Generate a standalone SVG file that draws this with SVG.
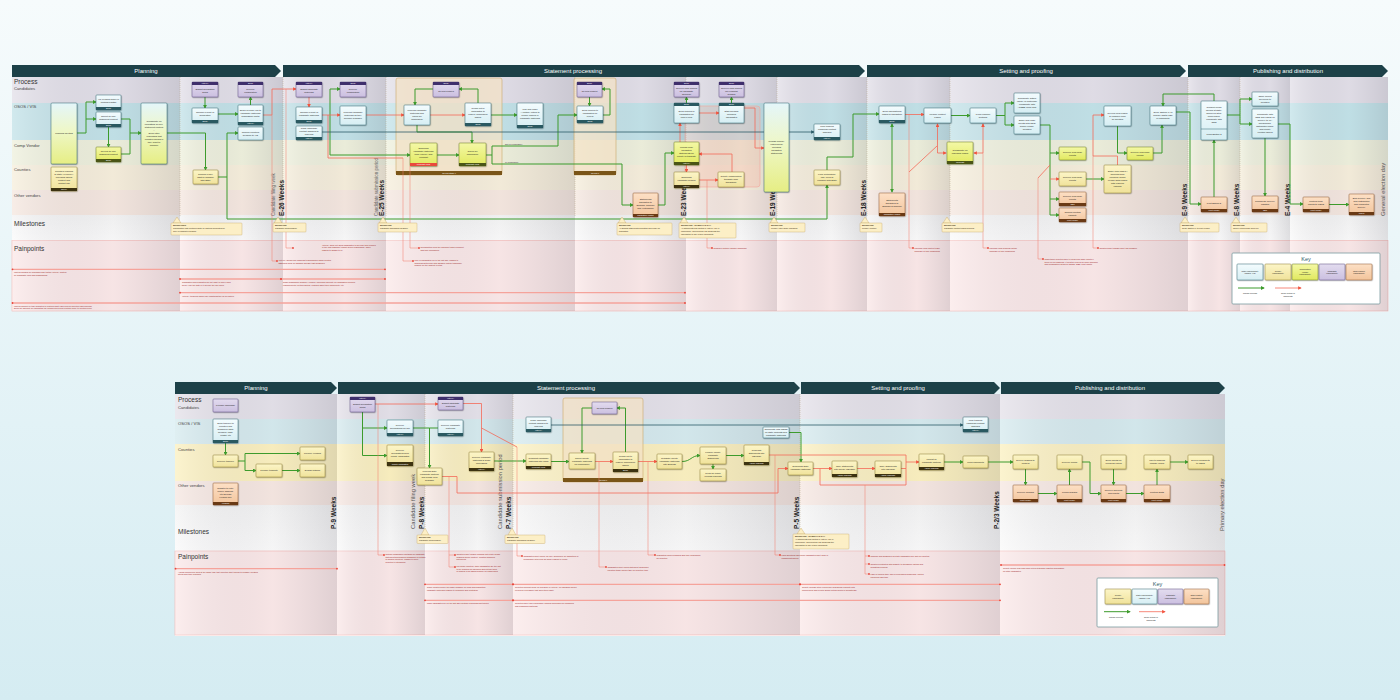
<svg xmlns="http://www.w3.org/2000/svg" width="1400" height="700" viewBox="0 0 1400 700">
<defs>
<linearGradient id="bg" x1="0" y1="0" x2="0" y2="1"><stop offset="0" stop-color="#f6fbfc"/><stop offset="1" stop-color="#d5ecf2"/></linearGradient>
<linearGradient id="col" x1="0" y1="0" x2="1" y2="0"><stop offset="0" stop-color="#fff" stop-opacity="0.25"/><stop offset="0.6" stop-color="#6a6a7a" stop-opacity="0.03"/><stop offset="1" stop-color="#50505f" stop-opacity="0.16"/></linearGradient>
<linearGradient id="gS" x1="0" y1="0" x2="0" y2="1"><stop offset="0" stop-color="#f4fcfe"/><stop offset="1" stop-color="#d6eef3"/></linearGradient>
<linearGradient id="gC" x1="0" y1="0" x2="0" y2="1"><stop offset="0" stop-color="#fcf5c8"/><stop offset="1" stop-color="#f0e29a"/></linearGradient>
<linearGradient id="gV" x1="0" y1="0" x2="0" y2="1"><stop offset="0" stop-color="#f4f8a6"/><stop offset="1" stop-color="#e1e95e"/></linearGradient>
<linearGradient id="gP" x1="0" y1="0" x2="0" y2="1"><stop offset="0" stop-color="#e3dcef"/><stop offset="1" stop-color="#cbbfe0"/></linearGradient>
<linearGradient id="gO" x1="0" y1="0" x2="0" y2="1"><stop offset="0" stop-color="#fde0c6"/><stop offset="1" stop-color="#f2c49b"/></linearGradient>
<linearGradient id="gJ" x1="0" y1="0" x2="0" y2="1"><stop offset="0" stop-color="#e4f6fa"/><stop offset="0.45" stop-color="#eef7c8"/><stop offset="1" stop-color="#e6ee84"/></linearGradient>
<linearGradient id="gM" x1="0" y1="0" x2="0" y2="1"><stop offset="0" stop-color="#f3f3f3"/><stop offset="1" stop-color="#fafafa"/></linearGradient>
<filter id="sh" x="-10%" y="-10%" width="130%" height="140%"><feDropShadow dx="0.5" dy="0.7" stdDeviation="0.35" flood-color="#000" flood-opacity="0.35"/></filter>
<marker id="mg" viewBox="0 0 10 10" refX="8" refY="5" markerWidth="4" markerHeight="4" markerUnits="userSpaceOnUse" orient="auto-start-reverse"><path d="M0,0 L10,5 L0,10 z" fill="#3d9b2c"/></marker>
<marker id="mr" viewBox="0 0 10 10" refX="8" refY="5" markerWidth="3.6" markerHeight="3.6" markerUnits="userSpaceOnUse" orient="auto-start-reverse"><path d="M0,0 L10,5 L0,10 z" fill="#f2543f"/></marker>
<marker id="mt" viewBox="0 0 10 10" refX="8" refY="5" markerWidth="3.6" markerHeight="3.6" markerUnits="userSpaceOnUse" orient="auto"><path d="M0,0 L10,5 L0,10 z" fill="#2b5c68"/></marker>
<marker id="md" viewBox="0 0 10 10" refX="5" refY="5" markerWidth="1.8" markerHeight="1.8" markerUnits="userSpaceOnUse"><circle cx="5" cy="5" r="5" fill="#e8453a"/></marker>
<style>
.n{stroke-width:.5;filter:url(#sh)}
.st{fill:url(#gS);stroke:#2f6670}.co{fill:url(#gC);stroke:#8d7d30}.cv{fill:url(#gV);stroke:#6b7a22}
.ca{fill:url(#gP);stroke:#5c4e82}.ov{fill:url(#gO);stroke:#8f5b30}.jn{fill:url(#gJ);stroke:#2f6670}
.fs{fill:#2a5961}.fc{fill:#3d3311}.fv{fill:#4a5516}.fp{fill:#3f2f6c}.fo{fill:#6a3a15}.fr{fill:#e84a3c}
.nt{font:2.3px "Liberation Sans",Arial,sans-serif;fill:#1e1e1e;text-anchor:middle}
.ft{font:2px "Liberation Sans",Arial,sans-serif;fill:#fff;text-anchor:middle}
.g{fill:none;stroke:#3d9b2c;stroke-width:1;marker-end:url(#mg)}
.g0{fill:none;stroke:#3d9b2c;stroke-width:1}
.g2{fill:none;stroke:#3d9b2c;stroke-width:1;marker-end:url(#mg);marker-start:url(#mg)}
.r{fill:none;stroke:#f46a58;stroke-width:.8;marker-end:url(#mr)}
.r0{fill:none;stroke:#f46a58;stroke-width:.8}
.r2{fill:none;stroke:#f46a58;stroke-width:.8;marker-end:url(#mr);marker-start:url(#mr)}
.tl{fill:none;stroke:#2b5c68;stroke-width:.8;marker-end:url(#mt)}
.ld{fill:none;stroke:#f27a6a;stroke-width:.5;marker-end:url(#md)}
.pb{fill:none;stroke:#f5a39b;stroke-width:1.3}
.dot{fill:#e8453a}
.hd{fill:#1d4148}
.ht{font:6px "Liberation Sans",Arial,sans-serif;fill:#fff;text-anchor:middle}
.lb{font:6.5px "Liberation Sans",Arial,sans-serif;fill:#333}
.ll{font:4.2px "Liberation Sans",Arial,sans-serif;fill:#444}
.wk{font:600 6.5px "Liberation Sans",Arial,sans-serif;fill:#222}
.wk2{font:4.5px "Liberation Sans",Arial,sans-serif;fill:#666}
.wk3{font:5.8px "Liberation Sans",Arial,sans-serif;fill:#555}
.dl{stroke:#b9a98e;stroke-width:.5;stroke-dasharray:1 1}
.ms{fill:#fcefc6;stroke:#c8a766;stroke-width:.4}
.mt{font:bold 2px "Liberation Sans",Arial,sans-serif;fill:#3a2a10}
.md{font:2px "Liberation Sans",Arial,sans-serif;fill:#3a2a10}
.pt{font:2.1px "Liberation Sans",Arial,sans-serif;fill:#9a2020}
.cl{font:2.2px "Liberation Sans",Arial,sans-serif;fill:#333}
.rv{fill:#f3e2c6;fill-opacity:.75;stroke:#c9a86a;stroke-width:.6}
.rvf{fill:#7a5518}
.key{fill:#fff;stroke:#7a9aa0;stroke-width:.8}
.kt{font:5.5px "Liberation Sans",Arial,sans-serif;fill:#2b5c68;text-anchor:middle}
.kl{font:2px "Liberation Sans",Arial,sans-serif;fill:#222;text-anchor:middle}
</style>
</defs>

<rect width="1400" height="700" fill="url(#bg)"/>

<!-- ================= TOP DIAGRAM: background ================= -->
<g id="top-bg">
<rect x="12" y="77" width="1376" height="234" fill="#fff"/>
<rect x="12" y="77" width="1376" height="26" fill="#e2dfe8"/>
<rect x="12" y="103" width="1376" height="37" fill="#c2e2e8"/>
<rect x="12" y="140" width="1376" height="25" fill="#eef0dc"/>
<rect x="12" y="165" width="1376" height="25" fill="#f6eedb"/>
<rect x="12" y="190" width="1376" height="25" fill="#f5e7df"/>
<rect x="12" y="215" width="1376" height="25" fill="url(#gM)"/>
<rect x="12" y="240.5" width="1376" height="70.5" fill="#fbe8e8" stroke="#f3b3b0" stroke-width=".6"/>
<g fill="url(#col)">
<rect x="12" y="77" width="168" height="234"/><rect x="180" y="77" width="103" height="234"/><rect x="283" y="77" width="103" height="234"/>
<rect x="386" y="77" width="189" height="234"/><rect x="575" y="77" width="111" height="234"/><rect x="686" y="77" width="91" height="234"/>
<rect x="777" y="77" width="90" height="234"/><rect x="867" y="77" width="83" height="234"/><rect x="950" y="77" width="238" height="234"/>
<rect x="1188" y="77" width="52" height="234"/><rect x="1240" y="77" width="50" height="234"/><rect x="1290" y="77" width="98" height="234"/>
</g>
<g class="dl">
<line x1="180" y1="77" x2="180" y2="217"/><line x1="283" y1="77" x2="283" y2="217"/><line x1="386" y1="77" x2="386" y2="217"/>
<line x1="575" y1="77" x2="575" y2="217"/><line x1="686" y1="77" x2="686" y2="217"/><line x1="777" y1="77" x2="777" y2="217"/>
<line x1="867" y1="77" x2="867" y2="217"/><line x1="950" y1="77" x2="950" y2="217"/><line x1="1188" y1="77" x2="1188" y2="217"/>
<line x1="1240" y1="77" x2="1240" y2="217"/>
</g>
</g>

<g id="top-header">
<polygon class="hd" points="12,65 275,65 281,71 275,77 12,77"/>
<polygon class="hd" points="283,65 859,65 865,71 859,77 283,77"/>
<polygon class="hd" points="867,65 1180,65 1186,71 1180,77 867,77"/>
<polygon class="hd" points="1188,65 1382,65 1388,71 1382,77 1188,77"/>
<text class="ht" x="146" y="73.2">Planning</text>
<text class="ht" x="573" y="73.2">Statement processing</text>
<text class="ht" x="1026" y="73.2">Setting and proofing</text>
<text class="ht" x="1288" y="73.2">Publishing and distribution</text>
</g>

<g id="top-lanes">
<text class="lb" x="14" y="84">Process</text>
<text class="ll" x="14" y="90">Candidates</text>
<text class="ll" x="14" y="108">OSOS / VIS</text>
<text class="ll" x="14" y="147">Comp Vendor</text>
<text class="ll" x="14" y="171">Counties</text>
<text class="ll" x="14" y="197">Other vendors</text>
<text class="lb" x="14" y="226">Milestones</text>
<text class="lb" x="14" y="251" fill="#b23a3a">Painpoints</text>
</g>

<g id="top-weeks">
<text class="wk2" transform="translate(274.5,216) rotate(-90)">Candidate filing week</text>
<text class="wk" transform="translate(283.5,216) rotate(-90)">E-26 Weeks</text>
<text class="wk2" transform="translate(377.5,216) rotate(-90)">Candidate submission period</text>
<text class="wk" transform="translate(384,216) rotate(-90)">E-25 Weeks</text>
<text class="wk" transform="translate(685.5,216) rotate(-90)">E-23 Weeks</text>
<text class="wk" transform="translate(774.5,216) rotate(-90)">E-19 Weeks</text>
<text class="wk" transform="translate(865.5,216) rotate(-90)">E-18 Weeks</text>
<text class="wk" transform="translate(1186.5,216) rotate(-90)">E-9 Weeks</text>
<text class="wk" transform="translate(1238.5,216) rotate(-90)">E-8 Weeks</text>
<text class="wk" transform="translate(1289.5,216) rotate(-90)">E-4 Weeks</text>
<text class="wk3" fill="#333" transform="translate(1385,216) rotate(-90)">General election day</text>
</g>

<g id="top-containers">
<rect class="rv" x="396" y="78" width="106" height="97" rx="2"/>
<rect class="rvf" x="396" y="171" width="106" height="4"/>
<text class="ft" x="449" y="173.7">Review stage II</text>
<rect class="rv" x="574" y="78" width="42" height="97" rx="2"/>
<rect class="rvf" x="574" y="171" width="42" height="4"/>
<text class="ft" x="595" y="173.7">Review II</text>
<rect x="685" y="106" width="75" height="81" rx="3" fill="#f9a89c" fill-opacity=".28" stroke="#f5a49a" stroke-width=".6"/>
</g>

<!-- ================= TOP CONNECTORS ================= -->
<g id="top-connectors">
<path class="g" d="M77,133 H86 V102 H96"/>
<path class="g" d="M86,119 H96"/>
<path class="g" d="M108.5,127 V147"/>
<path class="g" d="M121,119 H130 V133 H141"/>
<path class="g0" d="M121,154 H130 V133"/>
<path class="g" d="M167,133 H205.5 V170"/>
<path class="g" d="M218,177 H227 V133 H238"/>
<path class="g" d="M227,177 V219 H827 V185"/>
<path class="g" d="M205,97 V108"/>
<path class="g" d="M218,114 H238"/>
<path class="g" d="M250.5,105 V97"/>
<path class="g" d="M330,115 V89 H340"/>
<path class="g" d="M330,115 V155 H410"/>
<path class="g" d="M478,103 V89 H459"/>
<path class="g" d="M433,89 H415 V105"/>
<path class="g" d="M417,125 V132 H472 V143"/>
<path class="g" d="M437,155 H459"/>
<path class="g" d="M486,155 H492 V146 H558 V115 H577"/>
<path class="g" d="M492,155 V164 H622 V205 H633"/>
<text class="cl" x="505" y="145.3">Not in compliance</text>
<text class="cl" x="505" y="163.3">In compliance</text>
<path class="g" d="M491,115 H517"/>
<path class="g" d="M603,115 H610 V89 H602"/>
<path class="g" d="M589.5,97 V106"/>
<path class="g" d="M658,205 H665 V153 H674"/>
<path class="g" d="M686.5,103 V97"/>
<path class="g" d="M731.5,103 V97"/>
<path class="g" d="M827,170 V157 H853 V114 H879"/>
<path class="g2" d="M892,124 V192"/>
<path class="g" d="M951,115.5 H970"/>
<path class="g" d="M996,115.5 H1005 V103 H1014"/>
<path class="g" d="M1005,115.5 V125 H1014"/>
<path class="g" d="M1040,125 H1050 V153 H1059"/>
<path class="g" d="M1050,153 V199 H1059"/>
<path class="g" d="M1050,199 V215 H1059"/>
<path class="g" d="M1086,179 H1104"/>
<path class="g" d="M1117.5,126 V153 H1127"/>
<path class="g" d="M1153,153 H1162 V125"/>
<path class="g" d="M1176,112 H1190 V204 H1201"/>
<path class="g" d="M1214,101 V94 H1163 V106"/>
<path class="g" d="M1214,197 V140"/>
<path class="g" d="M1227,115 H1240 V99 H1252"/>
<path class="g" d="M1240,115 V124 H1252"/>
<path class="g" d="M1265,138 V196"/>
<path class="g" d="M1278,124 H1290 V204 H1303"/>
<path class="g" d="M1329,204.5 H1349"/>

<path class="r" d="M263,115 H272 V89 H296"/>
<path class="r" d="M309,97 V107"/>
<path class="r" d="M322,115 H340"/>
<path class="r" d="M366,115 H404"/>
<path class="r" d="M430,115 H465"/>
<path class="r0" d="M328,115 V158 H403"/>
<path class="r" d="M680,142 V123"/>
<path class="r" d="M686.5,165 V172"/>
<path class="r" d="M699,180 H718"/>
<path class="r" d="M732,172 V154 H699"/>
<path class="r" d="M699,113 H719"/>
<path class="r" d="M744,108 H755 V148 H764"/>
<path class="r" d="M905,114.5 H924"/>
<path class="r0" d="M937,146 L909,172"/>
<path class="r2" d="M937.5,124 V153 H946"/>
<path class="r2" d="M983,124 V153 H974"/>
<path class="r" d="M1050,179 H1059"/>
<path class="r0" d="M1050,165 L1038,178"/>
<path class="r" d="M1117.5,165 V156 H1093 V115 H1104"/>

<path class="tl" d="M322,132 H814"/>

<path class="ld" d="M272,115 V261 H277"/>
<path class="ld" d="M286,89 V248 H293"/>
<path class="ld" d="M403,158 V261 H413"/>
<path class="ld" d="M410,166 V248 H419"/>
<path class="ld" d="M707,180 V248 H712"/>
<path class="ld" d="M909,114.5 V248 H913"/>
<path class="ld" d="M983,153 V248 H988"/>
<path class="ld" d="M1038,178 V259 H1043"/>
<path class="ld" d="M1093,156 V248 H1098"/>
</g>

<!-- ================= TOP NODES ================= -->
<g id="t1"><rect class="n jn" x="51" y="103" width="26" height="61" rx="1"/><text class="nt" x="64" y="134">Planning meeting</text></g>
<g id="t2"><rect class="n st" x="96" y="95" width="25" height="15" rx=".8"/><rect class="fs" x="96" y="107" width="25" height="3"/><text class="nt" x="108.5" y="100.4">VR vendors space in<tspan x="108.5" dy="3">printing plants?</tspan></text><text class="ft" x="108.5" y="109.2">Email</text></g>
<g id="t3"><rect class="n st" x="96" y="112" width="25" height="15" rx=".8"/><rect class="fs" x="96" y="124" width="25" height="3"/><text class="nt" x="108.5" y="117.4">Collect all non-<tspan x="108.5" dy="3">statement content</tspan></text><text class="ft" x="108.5" y="126.2">Email</text></g>
<g id="t4"><rect class="n cv" x="96" y="147" width="25" height="15" rx=".8"/><rect class="fv" x="96" y="159" width="25" height="3"/><text class="nt" x="108.5" y="152.4">Review all non-<tspan x="108.5" dy="3">statement content</tspan></text><text class="ft" x="108.5" y="161.2">Email</text></g>
<g id="t5"><rect class="n jn" x="141" y="103" width="26" height="61" rx="1"/><text class="nt" x="154" y="122.4">Collaborate on<tspan x="154" dy="3">formatting all non-</tspan><tspan x="154" dy="3">statement content</tspan><tspan x="154" dy="3">–</tspan><tspan x="154" dy="3">Send letter</tspan><tspan x="154" dy="3">requesting that</tspan><tspan x="154" dy="3">counties confirm if</tspan><tspan x="154" dy="3">they want to</tspan><tspan x="154" dy="3">combine</tspan></text></g>
<g id="t6"><rect class="n co" x="51" y="167" width="26" height="24" rx=".8"/><rect class="fc" x="51" y="188" width="26" height="3"/><text class="nt" x="64" y="172.4">Counties respond<tspan x="64" dy="3">to state VP survey,</tspan><tspan x="64" dy="3">providing official</tspan><tspan x="64" dy="3">content and</tspan><tspan x="64" dy="3">contact info</tspan></text><text class="ft" x="64" y="190.2">Survey</text></g>
<g id="t7"><rect class="n ca" x="192" y="82" width="26" height="15" rx=".8"/><rect class="fp" x="192" y="82" width="26" height="3"/><text class="ft" x="205" y="84.2">VoteWA</text><text class="nt" x="205" y="90.4">Submit declaration<tspan x="205" dy="3">forms</tspan></text></g>
<g id="t8"><rect class="n st" x="192" y="108" width="26" height="15" rx=".8"/><rect class="fs" x="192" y="120" width="26" height="3"/><text class="nt" x="205" y="113.4">Confirm receipt of<tspan x="205" dy="3">declaration</tspan></text><text class="ft" x="205" y="122.2">Email</text></g>
<g id="t9"><rect class="n ca" x="238" y="82" width="25" height="15" rx=".8"/><rect class="fp" x="238" y="82" width="25" height="3"/><text class="ft" x="250.5" y="84.2">Email</text><text class="nt" x="250.5" y="90.4">Receive<tspan x="250.5" dy="3">confirmation</tspan></text></g>
<g id="t10"><rect class="n st" x="238" y="105" width="25" height="20" rx=".8"/><rect class="fs" x="238" y="122" width="25" height="3"/><text class="nt" x="250.5" y="111.4">Share prepare link to<tspan x="250.5" dy="3">candidate materials</tspan><tspan x="250.5" dy="3">submission portal</tspan></text><text class="ft" x="250.5" y="124.2">VoteWA</text></g>
<g id="t11"><rect class="n st" x="238" y="127" width="25" height="13" rx=".8"/><text class="nt" x="250.5" y="132.9">Confirm counties'<tspan x="250.5" dy="3">decision to VIS</tspan></text></g>
<g id="t12"><rect class="n co" x="193" y="170" width="25" height="14" rx=".8"/><text class="nt" x="205.5" y="174.9">Confirm if they<tspan x="205.5" dy="3">want to combine</tspan><tspan x="205.5" dy="3">with State</tspan></text></g>
<g id="t13"><rect class="n ca" x="296" y="82" width="26" height="15" rx=".8"/><rect class="fp" x="296" y="82" width="26" height="3"/><text class="ft" x="309" y="84.2">VoteWA</text><text class="nt" x="309" y="90.4">Submit candidate<tspan x="309" dy="3">materials</tspan></text></g>
<g id="t14"><rect class="n ca" x="340" y="82" width="26" height="15" rx=".8"/><rect class="fp" x="340" y="82" width="26" height="3"/><text class="ft" x="353" y="84.2">Email</text><text class="nt" x="353" y="90.4">Receive<tspan x="353" dy="3">confirmation</tspan></text></g>
<g id="t15"><rect class="n st" x="296" y="107" width="26" height="16" rx=".8"/><rect class="fs" x="296" y="120" width="26" height="3"/><text class="nt" x="309" y="112.9">Confirm receipt of<tspan x="309" dy="3">candidate materials</tspan></text><text class="ft" x="309" y="122.2">Email</text></g>
<g id="t16"><rect class="n st" x="296" y="126" width="26" height="14" rx=".8"/><rect class="fs" x="296" y="137" width="26" height="3"/><text class="nt" x="309" y="129.4">Track campaign<tspan x="309" dy="3">contact changes to</tspan><tspan x="309" dy="3">ordering</tspan></text><text class="ft" x="309" y="139.2">VoteWA</text></g>
<g id="t17"><rect class="n st" x="340" y="106" width="26" height="19" rx=".8"/><text class="nt" x="353" y="113.4">Process candidate<tspan x="353" dy="3">materials as they</tspan><tspan x="353" dy="3">become available</tspan></text></g>
<g id="t18"><rect class="n ca" x="433" y="82" width="26" height="15" rx=".8"/><rect class="fp" x="433" y="82" width="26" height="3"/><text class="ft" x="446" y="84.2">Email</text><text class="nt" x="446" y="91.9">Review profiles</text></g>
<g id="t19"><rect class="n st" x="404" y="105" width="26" height="20" rx=".8"/><text class="nt" x="417" y="111.4">Process candidate<tspan x="417" dy="3">materials and</tspan><tspan x="417" dy="3">check for</tspan><tspan x="417" dy="3">compliance</tspan></text></g>
<g id="t20"><rect class="n st" x="465" y="103" width="26" height="23" rx=".8"/><rect class="fs" x="465" y="123" width="26" height="3"/><text class="nt" x="478" y="109.4">Reach out to<tspan x="478" dy="3">candidates to</tspan><tspan x="478" dy="3">resolve compliance</tspan><tspan x="478" dy="3">issues</tspan></text><text class="ft" x="478" y="125.2">Email</text></g>
<g id="t21"><rect class="n cv" x="410" y="143" width="27" height="23" rx=".8"/><rect class="fr" x="410" y="163" width="27" height="3"/><text class="nt" x="423.5" y="149.4">Download<tspan x="423.5" dy="3">candidate materials</tspan><tspan x="423.5" dy="3">from VoteWA and</tspan><tspan x="423.5" dy="3">reformat</tspan></text><text class="ft" x="423.5" y="165.2">Microsoft Word</text></g>
<g id="t22"><rect class="n cv" x="459" y="143" width="27" height="23" rx=".8"/><rect class="fv" x="459" y="163" width="27" height="3"/><text class="nt" x="472.5" y="152.4">Check for<tspan x="472.5" dy="3">compliance</tspan></text><text class="ft" x="472.5" y="165.2">Microsoft Word</text></g>
<g id="t23"><rect class="n st" x="517" y="103" width="26" height="25" rx=".8"/><rect class="fs" x="517" y="125" width="26" height="3"/><text class="nt" x="530" y="110.4">Mail and email<tspan x="530" dy="3">“Aviation” letters to</tspan><tspan x="530" dy="3">people named in</tspan><tspan x="530" dy="3">candidate materials</tspan></text><text class="ft" x="530" y="127.2">Email</text></g>
<g id="t24"><rect class="n ca" x="577" y="82" width="25" height="15" rx=".8"/><rect class="fp" x="577" y="82" width="25" height="3"/><text class="ft" x="589.5" y="84.2">Email</text><text class="nt" x="589.5" y="91.9">Review profiles</text></g>
<g id="t25"><rect class="n st" x="577" y="106" width="26" height="17" rx=".8"/><rect class="fs" x="577" y="120" width="26" height="3"/><text class="nt" x="590" y="110.9">Send profiles to<tspan x="590" dy="3">candidates for</tspan><tspan x="590" dy="3">review</tspan></text><text class="ft" x="590" y="122.2">Email</text></g>
<g id="t26"><rect class="n ov" x="633" y="193" width="25" height="24" rx=".8"/><rect class="fo" x="633" y="214" width="25" height="3"/><text class="nt" x="645.5" y="199.9">Statements<tspan x="645.5" dy="3">translated to</tspan><tspan x="645.5" dy="3">Spanish, Chinese</tspan><tspan x="645.5" dy="3">and Vietnamese</tspan></text><text class="ft" x="645.5" y="216.2">Translation vendor</text></g>
<g id="t27"><rect class="n ca" x="674" y="82" width="25" height="15" rx=".8"/><rect class="fp" x="674" y="82" width="25" height="3"/><text class="ft" x="686.5" y="84.2">Email</text><text class="nt" x="686.5" y="88.9">Receive final profiles<tspan x="686.5" dy="3">for candidate</tspan><tspan x="686.5" dy="3">approval</tspan></text></g>
<g id="t28"><rect class="n ca" x="719" y="82" width="25" height="15" rx=".8"/><rect class="fp" x="719" y="82" width="25" height="3"/><text class="ft" x="731.5" y="84.2">Email</text><text class="nt" x="731.5" y="88.9">Receive final profiles<tspan x="731.5" dy="3">for revisions</tspan><tspan x="731.5" dy="3">allowed</tspan></text></g>
<g id="t29"><rect class="n st" x="674" y="103" width="25" height="20" rx=".8"/><rect class="fs" x="674" y="103" width="25" height="3"/><text class="ft" x="686.5" y="105.2">Email</text><text class="nt" x="686.5" y="112.4">Send profiles to<tspan x="686.5" dy="3">candidates for</tspan><tspan x="686.5" dy="3">final review</tspan></text></g>
<g id="t30"><rect class="n st" x="719" y="103" width="25" height="20" rx=".8"/><rect class="fs" x="719" y="103" width="25" height="3"/><text class="ft" x="731.5" y="105.2">Email</text><text class="nt" x="731.5" y="112.4">Start proofing<tspan x="731.5" dy="3">prepared</tspan><tspan x="731.5" dy="3">candidates</tspan></text></g>
<g id="t31"><rect class="n cv" x="674" y="142" width="25" height="23" rx=".8"/><rect class="fv" x="674" y="162" width="25" height="3"/><text class="nt" x="686.5" y="148.4">Upload final/<tspan x="686.5" dy="3">translated</tspan><tspan x="686.5" dy="3">statements for</tspan><tspan x="686.5" dy="3">county to translate</tspan></text><text class="ft" x="686.5" y="164.2">VoteWA</text></g>
<g id="t32"><rect class="n co" x="674" y="172" width="25" height="16" rx=".8"/><rect class="fc" x="674" y="185" width="25" height="3"/><text class="nt" x="686.5" y="177.9">Download<tspan x="686.5" dy="3">candidate profiles</tspan></text><text class="ft" x="686.5" y="187.2">VoteWA</text></g>
<g id="t33"><rect class="n co" x="718" y="172" width="26" height="15" rx=".8"/><text class="nt" x="731" y="177.4">County communities<tspan x="731" dy="3">translate from</tspan><tspan x="731" dy="3">translation</tspan></text></g>
<g id="t34"><rect class="n jn" x="764" y="103" width="25" height="89" rx="1"/><text class="nt" x="776.5" y="142.4">Publish primary<tspan x="776.5" dy="3">voting guide</tspan><tspan x="776.5" dy="3">including</tspan><tspan x="776.5" dy="3">translated</tspan><tspan x="776.5" dy="3">statements</tspan></text></g>
<g id="t35"><rect class="n st" x="814" y="124" width="26" height="16" rx=".8"/><rect class="fs" x="814" y="137" width="26" height="3"/><text class="nt" x="827" y="127.4">Final tracking<tspan x="827" dy="3">campaign contact</tspan><tspan x="827" dy="3">changes</tspan></text><text class="ft" x="827" y="139.2">VoteWA</text></g>
<g id="t36"><rect class="n co" x="814" y="170" width="26" height="15" rx=".8"/><text class="nt" x="827" y="175.4">Final certification.<tspan x="827" dy="3">May need to</tspan><tspan x="827" dy="3">combine with State</tspan></text></g>
<g id="t37"><rect class="n st" x="879" y="106" width="26" height="17" rx=".8"/><rect class="fs" x="879" y="120" width="26" height="3"/><text class="nt" x="892" y="112.4">Send informational<tspan x="892" dy="3">pages to translation</tspan></text><text class="ft" x="892" y="122.2">Email</text></g>
<g id="t38"><rect class="n ov" x="879" y="193" width="26" height="23" rx=".8"/><rect class="fo" x="879" y="213" width="26" height="3"/><text class="nt" x="892" y="200.9">Statements<tspan x="892" dy="3">translated to</tspan><tspan x="892" dy="3">Spanish &amp; Chinese</tspan></text><text class="ft" x="892" y="215.2">Translation vendor</text></g>
<g id="t39"><rect class="n st" x="924" y="108" width="27" height="15" rx=".8"/><text class="nt" x="937.5" y="114.9">Finalize content<tspan x="937.5" dy="3">pages</tspan></text></g>
<g id="t40"><rect class="n cv" x="947" y="142" width="26" height="22" rx=".8"/><rect class="fv" x="947" y="161" width="26" height="3"/><text class="nt" x="960" y="150.9">Collaborate on<tspan x="960" dy="3">individual pages</tspan></text><text class="ft" x="960" y="163.2">Ionoplast</text></g>
<g id="t41"><rect class="n st" x="970" y="108" width="26" height="15" rx=".8"/><text class="nt" x="983" y="114.9">Proof regional<tspan x="983" dy="3">sections</tspan></text></g>
<g id="t42"><rect class="n st" x="1014" y="93" width="26" height="20" rx=".8"/><text class="nt" x="1027" y="99.4">Coordinate author<tspan x="1027" dy="3">visual VP materials;</tspan><tspan x="1027" dy="3">collaborate with</tspan><tspan x="1027" dy="3">AT&amp;BB; proof final</tspan></text></g>
<g id="t43"><rect class="n st" x="1014" y="116" width="26" height="18" rx=".8"/><text class="nt" x="1027" y="121.4">Share final page<tspan x="1027" dy="3">counts with OSS;</tspan><tspan x="1027" dy="3">Comp vendor,</tspan><tspan x="1027" dy="3">counties</tspan></text></g>
<g id="t44"><rect class="n cv" x="1059" y="147" width="27" height="13" rx=".8"/><text class="nt" x="1072.5" y="152.9">Receive final page<tspan x="1072.5" dy="3">counts</tspan></text></g>
<g id="t45"><rect class="n co" x="1059" y="172" width="27" height="14" rx=".8"/><text class="nt" x="1072.5" y="178.4">Receive final page<tspan x="1072.5" dy="3">counts</tspan></text></g>
<g id="t46"><rect class="n ov" x="1059" y="192" width="27" height="14" rx=".8"/><rect class="fo" x="1059" y="203" width="27" height="3"/><text class="nt" x="1072.5" y="196.9">Receive final page<tspan x="1072.5" dy="3">counts</tspan></text><text class="ft" x="1072.5" y="205.2">SBS</text></g>
<g id="t47"><rect class="n ov" x="1059" y="208" width="27" height="14" rx=".8"/><rect class="fo" x="1059" y="219" width="27" height="3"/><text class="nt" x="1072.5" y="212.9">Confirm printing<tspan x="1072.5" dy="3">capacity</tspan></text><text class="ft" x="1072.5" y="221.2">Print vendor</text></g>
<g id="t48"><rect class="n st" x="1104" y="106" width="27" height="20" rx=".8"/><text class="nt" x="1117.5" y="113.9">Review local pages<tspan x="1117.5" dy="3">&amp; compare from</tspan><tspan x="1117.5" dy="3">all counties</tspan></text></g>
<g id="t49"><rect class="n co" x="1104" y="165" width="27" height="28" rx=".8"/><text class="nt" x="1117.5" y="172.4">Share local pages /<tspan x="1117.5" dy="3">amounts from</tspan><tspan x="1117.5" dy="3">counties; Comp</tspan><tspan x="1117.5" dy="3">vendor sorts pages</tspan><tspan x="1117.5" dy="3">with regional</tspan><tspan x="1117.5" dy="3">editions</tspan></text></g>
<g id="t50"><rect class="n cv" x="1127" y="147" width="26" height="13" rx=".8"/><text class="nt" x="1140" y="152.9">Receive final page<tspan x="1140" dy="3">counts</tspan></text></g>
<g id="t51"><rect class="n st" x="1150" y="106" width="26" height="19" rx=".8"/><text class="nt" x="1163" y="113.4">Send “Edition 1” to<tspan x="1163" dy="3">primary digital PDF</tspan><tspan x="1163" dy="3">of pamphlet?</tspan></text></g>
<g id="t52"><rect class="n st" x="1201" y="101" width="26" height="39" rx=".8"/><line x1="1201" y1="129" x2="1227" y2="129" stroke="#2f6670" stroke-width=".5"/><text class="nt" x="1214" y="108.4">Conduct press<tspan x="1214" dy="3">checks at state-</tspan><tspan x="1214" dy="3">approved sites,</tspan><tspan x="1214" dy="3">proof plates,</tspan><tspan x="1214" dy="3">coordinate with</tspan><tspan x="1214" dy="3">OSS</tspan></text><text class="nt" x="1214" y="135.4">Proof Edition 2</text></g>
<g id="t53"><rect class="n ov" x="1201" y="197" width="26" height="15" rx=".8"/><rect class="fo" x="1201" y="209" width="26" height="3"/><text class="nt" x="1214" y="203.9">Print Edition 2</text><text class="ft" x="1214" y="211.2">Print vendor</text></g>
<g id="t54"><rect class="n st" x="1252" y="92" width="26" height="14" rx=".8"/><text class="nt" x="1265" y="96.9">Office copies<tspan x="1265" dy="3">delivered to</tspan><tspan x="1265" dy="3">counties</tspan></text></g>
<g id="t55"><rect class="n st" x="1252" y="109" width="26" height="29" rx=".8"/><text class="nt" x="1265" y="115.4">Coordinate with<tspan x="1265" dy="3">OSS and USPS on</tspan><tspan x="1265" dy="3">delivery to WA</tspan><tspan x="1265" dy="3">households,</tspan><tspan x="1265" dy="3">distribution hubs,</tspan><tspan x="1265" dy="3">and county</tspan><tspan x="1265" dy="3">election offices</tspan></text></g>
<g id="t56"><rect class="n ov" x="1252" y="196" width="26" height="16" rx=".8"/><rect class="fo" x="1252" y="209" width="26" height="3"/><text class="nt" x="1265" y="201.9">Coordinate delivery<tspan x="1265" dy="3">logistics</tspan></text><text class="ft" x="1265" y="211.2">SBS</text></g>
<g id="t57"><rect class="n ov" x="1303" y="197" width="26" height="15" rx=".8"/><rect class="fo" x="1303" y="209" width="26" height="3"/><text class="nt" x="1316" y="202.4">Printers truck<tspan x="1316" dy="3">pallets to USPS</tspan></text><text class="ft" x="1316" y="211.2">Print vendor</text></g>
<g id="t58"><rect class="n ov" x="1349" y="194" width="25" height="21" rx=".8"/><rect class="fo" x="1349" y="212" width="25" height="3"/><text class="nt" x="1361.5" y="199.4">Bulk delivery and<tspan x="1361.5" dy="3">bulk distribution</tspan><tspan x="1361.5" dy="3">and residential</tspan><tspan x="1361.5" dy="3">delivery</tspan></text><text class="ft" x="1361.5" y="214.2">USPS</text></g>

<!-- top milestones -->
<g id="tm1"><polygon class="ms" points="177,217 181,223 173,223"/><rect class="ms" x="171" y="223" width="71" height="12" rx=".8"/><text class="mt" x="173" y="226.3">MILESTONES</text><text class="md" x="173" y="229.3">Confirmation with printing plants; all editions accounted for<tspan x="173" dy="2.8">Crux of legislative session</tspan></text></g>
<g id="tm2"><polygon class="ms" points="278,217 282,223 274,223"/><rect class="ms" x="273" y="223" width="33" height="9" rx=".8"/><text class="mt" x="275" y="226.3">MILESTONE</text><text class="md" x="275" y="229.3">Candidate filing deadline</text></g>
<g id="tm3"><polygon class="ms" points="383,217 387,223 379,223"/><rect class="ms" x="378" y="223" width="39" height="9" rx=".8"/><text class="mt" x="380" y="226.3">MILESTONE</text><text class="md" x="380" y="229.3">Candidate submission deadline</text></g>
<g id="tm4"><polygon class="ms" points="622,217 626,223 618,223"/><rect class="ms" x="617" y="223" width="55" height="12" rx=".8"/><text class="mt" x="619" y="226.3">MILESTONE</text><text class="md" x="619" y="229.3">All English statements formatted and ready for<tspan x="619" dy="2.8">translation</tspan></text></g>
<g id="tm5"><polygon class="ms" points="684,217 688,223 680,223"/><rect class="ms" x="679" y="223" width="57" height="15" rx=".8"/><text class="mt" x="681" y="226.3">MILESTONE - DOWNLOAD DAY</text><text class="md" x="681" y="229.3">All statements and photos in VoteWA are in<tspan x="681" dy="2.8">compliance, and counties can download the</tspan><tspan x="681" dy="2.8">information to use in their pamphlets</tspan></text></g>
<g id="tm6"><polygon class="ms" points="774,217 778,223 770,223"/><rect class="ms" x="769" y="223" width="36" height="9" rx=".8"/><text class="mt" x="771" y="226.3">MILESTONE</text><text class="md" x="771" y="229.3">Primary voter guide published</text></g>
<g id="tm7"><polygon class="ms" points="865,217 869,223 861,223"/><rect class="ms" x="860" y="223" width="22" height="9" rx=".8"/><text class="mt" x="862" y="226.3">MILESTONE</text><text class="md" x="862" y="229.3">Primary election</text></g>
<g id="tm8"><polygon class="ms" points="947,217 951,223 943,223"/><rect class="ms" x="942" y="223" width="41" height="9" rx=".8"/><text class="mt" x="944" y="226.3">MILESTONE</text><text class="md" x="944" y="229.3">Candidate content pages finalized</text></g>
<g id="tm9"><polygon class="ms" points="1185,217 1189,223 1181,223"/><rect class="ms" x="1180" y="223" width="39" height="9" rx=".8"/><text class="mt" x="1182" y="226.3">MILESTONE</text><text class="md" x="1182" y="229.3">Send “Edition 1” to print vendor</text></g>
<g id="tm10"><polygon class="ms" points="1236,217 1240,223 1232,223"/><rect class="ms" x="1231" y="223" width="36" height="9" rx=".8"/><text class="mt" x="1233" y="226.3">MILESTONE</text><text class="md" x="1233" y="229.3">Online voters guide goes live</text></g>

<!-- top painpoints -->
<g id="top-painpoints">
<path class="pb" d="M12,269.3 H385"/><circle class="dot" cx="12.5" cy="269.3" r=".9"/><circle class="dot" cx="385" cy="269.3" r=".9"/>
<path class="pb" d="M180,279 H385"/><circle class="dot" cx="180" cy="279" r=".9"/><circle class="dot" cx="281" cy="279" r="1.1"/><circle class="dot" cx="385" cy="279" r=".9"/>
<path class="pb" d="M180,292.7 H685"/><circle class="dot" cx="180" cy="292.7" r=".9"/><circle class="dot" cx="685" cy="292.7" r=".9"/>
<path class="pb" d="M12,303 H685"/><circle class="dot" cx="12.5" cy="303" r=".9"/><circle class="dot" cx="685" cy="303" r=".9"/>
<text class="pt" x="14" y="273">Limited window for launching and testing VoteWA system<tspan x="14" dy="2.8">for Candidate filing and submissions</tspan></text>
<text class="pt" x="182" y="283">Candidates and legislators do not want to move filing<tspan x="182" dy="2.8">week / use the date of it as only the one week</tspan></text>
<text class="pt" x="283" y="283">Small submission window (“7 days”) increases difficulty for candidates seeking<tspan x="283" dy="2.8">endorsements, getting photos, learning about their opponents, etc.</tspan></text>
<text class="pt" x="182" y="296.6">VoteWA technical issues are unsatisfactory for all parties</text>
<text class="pt" x="14" y="306.6">Limited amount of time allocated to Printing plant early proves selection and proofing<tspan x="14" dy="2.8">Does not account for navigating the complexities from election cycle to election cycle</tspan></text>
<text class="pt" x="278.5" y="260.7">VoteWA allows non-compliant submissions which creates<tspan x="278.5" dy="2.8">additional work for OSOS's already tight deadlines</tspan></text>
<text class="pt" x="322" y="245.5">VoteWA does not allow candidates to preview their profiles<tspan x="322" dy="2.8">in the final pamphlet format before submission, when</tspan><tspan x="322" dy="2.8">passed to OSOS to fix</tspan></text>
<text class="pt" x="414.5" y="260.7">96% of candidates file in the last day, leading to<tspan x="414.5" dy="2.8">workload bottleneck with OSOS's limited temporary</tspan><tspan x="414.5" dy="2.8">support for the amount of staff</tspan></text>
<text class="pt" x="420.5" y="247.7">Reformatting from the Microsoft word is difficult<tspan x="420.5" dy="2.8">and time consuming</tspan></text>
<text class="pt" x="713.5" y="248.7">Requires multiple parallel workflows</text>
<text class="pt" x="914.5" y="248.7">Proofing each content page<tspan x="914.5" dy="2.8">manually is time consuming</tspan></text>
<text class="pt" x="989.5" y="248.7">Proofing each regional edition<tspan x="989.5" dy="2.8">manually is time consuming</tspan></text>
<text class="pt" x="1099.5" y="248.7">Counties don't always meet this deadline</text>
<text class="pt" x="1044.5" y="259.7">Sometimes counties have to send new page counts if<tspan x="1044.5" dy="2.8">there's a full mapping. It creates a need for more planning</tspan><tspan x="1044.5" dy="2.8">and coordination between OSOS, OBS, Print plants</tspan></text>
</g>

<!-- top key -->
<g id="top-key">
<rect class="key" x="1232" y="253" width="148" height="51" rx="1"/>
<text class="kt" x="1306" y="260.5">Key</text>
<rect class="n st" x="1237" y="264" width="26" height="16" rx=".8"/><text class="kl" x="1250" y="271.5">State responsibility<tspan x="1250" dy="2.6">(OSOS, VIS)</tspan></text>
<rect class="n co" x="1265" y="264" width="26" height="16" rx=".8"/><text class="kl" x="1278" y="271.5">County<tspan x="1278" dy="2.6">responsibility</tspan></text>
<rect class="n cv" x="1292" y="264" width="26" height="16" rx=".8"/><text class="kl" x="1305" y="270.2">Composition<tspan x="1305" dy="2.6">vendor</tspan><tspan x="1305" dy="2.6">responsibility</tspan></text>
<rect class="n ca" x="1319" y="264" width="26" height="16" rx=".8"/><text class="kl" x="1332" y="271.5">Candidate<tspan x="1332" dy="2.6">responsibility</tspan></text>
<rect class="n ov" x="1346" y="264" width="26" height="16" rx=".8"/><text class="kl" x="1359" y="271.5">Other partner<tspan x="1359" dy="2.6">responsibility</tspan></text>
<path class="g" d="M1238,288 H1264" stroke-width="1.4"/>
<path class="r" d="M1275,288 H1301" stroke-width="1.4"/>
<text class="kl" x="1250" y="294">Normal process</text>
<text class="kl" x="1288" y="294">Some friction or<tspan x="1288" dy="2.6">painpoints</tspan></text>
</g>

<!-- ================= BOTTOM DIAGRAM: background ================= -->
<g id="bot-bg">
<rect x="175" y="394" width="1050" height="242" fill="#fff"/>
<rect x="175" y="394" width="1050" height="25" fill="#e4e1e9"/>
<rect x="175" y="419" width="1050" height="25" fill="#d5eaee"/>
<rect x="175" y="444" width="1050" height="37" fill="#fbf0bf"/>
<rect x="175" y="481" width="1050" height="24" fill="#f6e7e1"/>
<rect x="175" y="505" width="1050" height="46" fill="url(#gM)"/>
<rect x="175" y="551" width="1050" height="84" fill="#fbe8e8" stroke="#f3b3b0" stroke-width=".6"/>
<g fill="url(#col)">
<rect x="175" y="394" width="162" height="241"/><rect x="337" y="394" width="88" height="241"/><rect x="425" y="394" width="88" height="241"/>
<rect x="513" y="394" width="287" height="241"/><rect x="800" y="394" width="200" height="241"/><rect x="1000" y="394" width="225" height="241"/>
</g>
<g class="dl">
<line x1="425" y1="394" x2="425" y2="528"/><line x1="513" y1="394" x2="513" y2="528"/><line x1="800" y1="394" x2="800" y2="528"/>
</g>
</g>

<g id="bot-header">
<polygon class="hd" points="175,382 331,382 337,388 331,394 175,394"/>
<polygon class="hd" points="338,382 794,382 800,388 794,394 338,394"/>
<polygon class="hd" points="801,382 994,382 1000,388 994,394 801,394"/>
<polygon class="hd" points="1001,382 1219,382 1225,388 1219,394 1001,394"/>
<text class="ht" x="256" y="390.2">Planning</text>
<text class="ht" x="566" y="390.2">Statement processing</text>
<text class="ht" x="898" y="390.2">Setting and proofing</text>
<text class="ht" x="1110" y="390.2">Publishing and distribution</text>
</g>

<g id="bot-lanes">
<text class="lb" x="178" y="402" fill="#4b3f7a">Process</text>
<text class="ll" x="178" y="408.5">Candidates</text>
<text class="ll" x="178" y="424.5">OSOS / VIS</text>
<text class="ll" x="178" y="451">Counties</text>
<text class="ll" x="178" y="487">Other vendors</text>
<text class="lb" x="178" y="533.5" fill="#8a5a30">Milestones</text>
<text class="lb" x="178" y="558.5" fill="#b23a3a">Painpoints</text>
</g>

<g id="bot-weeks">
<text class="wk" transform="translate(335.5,529) rotate(-90)">P-9 Weeks</text>
<text class="wk3" transform="translate(415,529) rotate(-90)">Candidate filing week</text>
<text class="wk" transform="translate(423.5,529) rotate(-90)">P-8 Weeks</text>
<text class="wk3" transform="translate(502,529) rotate(-90)">Candidate submission period</text>
<text class="wk" transform="translate(510.5,529) rotate(-90)">P-7 Weeks</text>
<text class="wk" transform="translate(798.5,529) rotate(-90)">P-5 Weeks</text>
<text class="wk" transform="translate(998.5,529) rotate(-90)">P-2/3 Weeks</text>
<text class="wk3" fill="#333" transform="translate(1224,531) rotate(-90)">Primary election day</text>
</g>

<g id="bot-containers">
<rect class="rv" x="563" y="398" width="80" height="84" rx="2"/>
<rect class="rvf" x="563" y="478" width="80" height="4"/>
<text class="ft" x="603" y="480.7">Review II</text>
</g>

<!-- ================= BOTTOM CONNECTORS ================= -->
<g id="bot-connectors">
<path class="g" d="M225.5,443 V455"/>
<path class="g" d="M238,461 H245 V453.5 H300"/>
<path class="g" d="M245,461 V470.5 H256"/>
<path class="g" d="M282,470.5 H300"/>
<path class="g" d="M362.5,412 V428 H387"/>
<path class="g" d="M362.5,428 V455.5 H387"/>
<path class="g" d="M413,428 H429.5 V468"/>
<path class="g0" d="M438,428 H429.5"/>
<path class="g" d="M494,461 H526"/>
<path class="g" d="M551,461.5 H569"/>
<path class="g" d="M625.5,452 V408 H617"/>
<path class="g" d="M592,408 H582 V453"/>
<path class="g" d="M682,461.5 C691,461.5 691,455.5 700,455.5"/>
<path class="g" d="M713,464 V469"/>
<path class="g" d="M726,455.5 H744"/>
<path class="g" d="M789,432.5 H801 V462"/>
<path class="g" d="M944,462 H963"/>
<path class="g" d="M988,462 H1013"/>
<path class="g" d="M1025.5,469 V485"/>
<path class="g" d="M1038,493.5 H1057"/>
<path class="g" d="M1069.5,485 V469"/>
<path class="g" d="M1082,462 H1090 V493.5 H1101"/>
<path class="g" d="M1113.5,469 V485"/>
<path class="g" d="M1126,493.5 H1144"/>
<path class="g" d="M1157,485 V469"/>
<path class="g" d="M1170,462 H1188"/>

<path class="r" d="M375,404 H438"/>
<path class="r" d="M463,403.5 H481.5 V452"/>
<path class="r0" d="M481.5,428 L517,447"/>
<path class="r" d="M442,476.5 H457 V493 H778 V468.5 H788"/>
<path class="r" d="M595,461.5 H613"/>
<path class="r" d="M638,461.5 H657"/>
<path class="r" d="M769,455 H906 V462 H919"/>
<path class="r" d="M813,468.5 H832"/>
<path class="r" d="M857,468.5 H875"/>
<path class="r0" d="M901,468.5 H906 V462"/>
<path class="r0" d="M820,468.5 V485 H906 V468.5"/>

<path class="tl" d="M551,425 H963"/>

<path class="ld" d="M378,404 V555 H384"/>
<path class="ld" d="M449,476.5 V567 H455"/>
<path class="ld" d="M449,555 H455"/>
<path class="ld" d="M517,447 V556 H522"/>
<path class="ld" d="M599,461.5 V567 H606"/>
<path class="ld" d="M648,461.5 V555 H655"/>
<path class="ld" d="M775,455 V555 H780"/>
<path class="ld" d="M865,485 V574 H869"/>
<path class="ld" d="M865,556 H869"/>
<path class="ld" d="M865,564 H869"/>
</g>

<!-- ================= BOTTOM NODES ================= -->
<g id="b1"><rect class="n ca" x="213" y="399" width="25" height="13" rx=".8"/><text class="nt" x="225.5" y="406.4">Prepare campaign</text></g>
<g id="b2"><rect class="n st" x="213" y="419" width="25" height="24" rx=".8"/><rect class="fs" x="213" y="440" width="25" height="3"/><text class="nt" x="225.5" y="424.4">Send timeline to<tspan x="225.5" dy="3">counties and</tspan><tspan x="225.5" dy="3">deadlines; state</tspan><tspan x="225.5" dy="3">holidays, page</tspan><tspan x="225.5" dy="3">length, etc</tspan></text><text class="ft" x="225.5" y="442.2">Email</text></g>
<g id="b3"><rect class="n co" x="213" y="455" width="25" height="12" rx=".8"/><text class="nt" x="225.5" y="461.9">Receive timeline</text></g>
<g id="b4"><rect class="n co" x="300" y="447" width="25" height="13" rx=".8"/><text class="nt" x="312.5" y="454.4">Procure vendors</text></g>
<g id="b5"><rect class="n co" x="256" y="464" width="26" height="13" rx=".8"/><text class="nt" x="269" y="471.4">Prepare template</text></g>
<g id="b6"><rect class="n co" x="300" y="464" width="25" height="13" rx=".8"/><text class="nt" x="312.5" y="471.4">Design artwork</text></g>
<g id="b7"><rect class="n ov" x="213" y="483" width="25" height="22" rx=".8"/><rect class="fo" x="213" y="502" width="25" height="3"/><text class="nt" x="225.5" y="488.9">Register to vote,<tspan x="225.5" dy="3">primer address,</tspan><tspan x="225.5" dy="3">etc through</tspan><tspan x="225.5" dy="3">election flier</tspan></text><text class="ft" x="225.5" y="504.2">Vendors</text></g>
<g id="b8"><rect class="n ca" x="350" y="397" width="25" height="15" rx=".8"/><rect class="fp" x="350" y="397" width="25" height="3"/><text class="ft" x="362.5" y="399.2">VoteWA</text><text class="nt" x="362.5" y="405.4">Submit declaration<tspan x="362.5" dy="3">forms</tspan></text></g>
<g id="b9"><rect class="n st" x="387" y="420" width="26" height="16" rx=".8"/><rect class="fs" x="387" y="433" width="26" height="3"/><text class="nt" x="400" y="425.9">Receive<tspan x="400" dy="3">declarations for use</tspan></text><text class="ft" x="400" y="435.2">VoteWA</text></g>
<g id="b10"><rect class="n co" x="387" y="445" width="26" height="21" rx=".8"/><rect class="fc" x="387" y="462" width="26" height="4"/><text class="nt" x="400" y="451.4">Receive<tspan x="400" dy="3">declarations from</tspan><tspan x="400" dy="3">county candidates</tspan></text><text class="ft" x="400" y="464.7">County candidates</text></g>
<g id="b11"><rect class="n co" x="417" y="468" width="25" height="17" rx=".8"/><text class="nt" x="429.5" y="472.4">Process state<tspan x="429.5" dy="3">candidate material</tspan><tspan x="429.5" dy="3">and filings; fees</tspan><tspan x="429.5" dy="3">available</tspan></text></g>
<g id="b12"><rect class="n ca" x="438" y="397" width="25" height="13" rx=".8"/><rect class="fp" x="438" y="397" width="25" height="3"/><text class="ft" x="450.5" y="399.2">VoteWA</text><text class="nt" x="450.5" y="404.4">Submit candidate<tspan x="450.5" dy="3">materials</tspan></text></g>
<g id="b13"><rect class="n st" x="438" y="420" width="25" height="16" rx=".8"/><rect class="fs" x="438" y="433" width="25" height="3"/><text class="nt" x="450.5" y="425.9">Receive candidate<tspan x="450.5" dy="3">materials</tspan></text><text class="ft" x="450.5" y="435.2">VoteWA</text></g>
<g id="b14"><rect class="n co" x="469" y="452" width="25" height="19" rx=".8"/><rect class="fc" x="469" y="468" width="25" height="3"/><text class="nt" x="481.5" y="457.9">Receive candidate<tspan x="481.5" dy="3">materials &amp; begin</tspan><tspan x="481.5" dy="3">processing</tspan></text><text class="ft" x="481.5" y="470.2">VoteWA</text></g>
<g id="b15"><rect class="n st" x="526" y="417" width="25" height="15" rx=".8"/><rect class="fs" x="526" y="429" width="25" height="3"/><text class="nt" x="538.5" y="420.9">Track campaign<tspan x="538.5" dy="3">contact changes to</tspan><tspan x="538.5" dy="3">ordering</tspan></text><text class="ft" x="538.5" y="431.2">VoteWA</text></g>
<g id="b16"><rect class="n co" x="526" y="454" width="25" height="15" rx=".8"/><rect class="fc" x="526" y="466" width="25" height="3"/><text class="nt" x="538.5" y="459.4">Reformat candidate<tspan x="538.5" dy="3">materials into Word</tspan></text><text class="ft" x="538.5" y="468.2">Microsoft Word</text></g>
<g id="b17"><rect class="n ca" x="592" y="402" width="25" height="12" rx=".8"/><text class="nt" x="604.5" y="408.9">Review profiles</text></g>
<g id="b18"><rect class="n co" x="569" y="453" width="26" height="16" rx=".8"/><text class="nt" x="582" y="458.9">Check county<tspan x="582" dy="3">candidate materials</tspan><tspan x="582" dy="3">for compliance</tspan></text></g>
<g id="b19"><rect class="n co" x="613" y="452" width="25" height="20" rx=".8"/><rect class="fc" x="613" y="469" width="25" height="3"/><text class="nt" x="625.5" y="456.9">Reach out to<tspan x="625.5" dy="3">candidates to</tspan><tspan x="625.5" dy="3">resolve compliance</tspan><tspan x="625.5" dy="3">issues</tspan></text><text class="ft" x="625.5" y="471.2">Email</text></g>
<g id="b20"><rect class="n co" x="657" y="454" width="25" height="15" rx=".8"/><text class="nt" x="669.5" y="459.4">Translate county<tspan x="669.5" dy="3">candidate materials</tspan><tspan x="669.5" dy="3">into Spanish</tspan></text></g>
<g id="b21"><rect class="n co" x="700" y="447" width="26" height="17" rx=".8"/><text class="nt" x="713" y="453.4">Finalize county<tspan x="713" dy="3">candidate</tspan><tspan x="713" dy="3">statements</tspan></text></g>
<g id="b22"><rect class="n co" x="700" y="469" width="26" height="12" rx=".8"/><text class="nt" x="713" y="474.4">Read for public<tspan x="713" dy="3">records requests</tspan></text></g>
<g id="b23"><rect class="n co" x="744" y="445" width="25" height="20" rx=".8"/><rect class="fc" x="744" y="462" width="25" height="3"/><text class="nt" x="756.5" y="451.4">Reformat<tspan x="756.5" dy="3">statements into</tspan><tspan x="756.5" dy="3">InDesign</tspan></text><text class="ft" x="756.5" y="464.2">Adobe InDesign</text></g>
<g id="b24"><rect class="n st" x="763" y="427" width="26" height="11" rx=".8"/><text class="nt" x="776" y="430.4">Coordinate with OSOS<tspan x="776" dy="3">on state contests and</tspan><tspan x="776" dy="3">candidate materials</tspan></text></g>
<g id="b25"><rect class="n co" x="788" y="462" width="25" height="13" rx=".8"/><text class="nt" x="800.5" y="467.4">Download state<tspan x="800.5" dy="3">candidate materials</tspan></text></g>
<g id="b26"><rect class="n co" x="832" y="461" width="25" height="16" rx=".8"/><rect class="fc" x="832" y="474" width="25" height="3"/><text class="nt" x="844.5" y="466.9">Copy statements<tspan x="844.5" dy="3">into county InDesign</tspan></text><text class="ft" x="844.5" y="476.2">Adobe InDesign</text></g>
<g id="b27"><rect class="n co" x="875" y="461" width="26" height="16" rx=".8"/><rect class="fc" x="875" y="474" width="26" height="3"/><text class="nt" x="888" y="466.9">Copy statements<tspan x="888" dy="3">into InDesign</tspan></text><text class="ft" x="888" y="476.2">Adobe InDesign</text></g>
<g id="b28"><rect class="n co" x="919" y="454" width="25" height="16" rx=".8"/><rect class="fc" x="919" y="467" width="25" height="3"/><text class="nt" x="931.5" y="459.9">Format all<tspan x="931.5" dy="3">candidate material</tspan></text><text class="ft" x="931.5" y="469.2">Adobe InDesign</text></g>
<g id="b29"><rect class="n co" x="963" y="456" width="25" height="12" rx=".8"/><text class="nt" x="975.5" y="462.9">Proof pamphlets</text></g>
<g id="b30"><rect class="n st" x="963" y="417" width="25" height="15" rx=".8"/><rect class="fs" x="963" y="429" width="25" height="3"/><text class="nt" x="975.5" y="420.9">Final tracking<tspan x="975.5" dy="3">campaign contact</tspan><tspan x="975.5" dy="3">changes</tspan></text><text class="ft" x="975.5" y="431.2">VoteWA</text></g>
<g id="b31"><rect class="n co" x="1013" y="455" width="25" height="14" rx=".8"/><text class="nt" x="1025.5" y="461.4">Deliver designs to<tspan x="1025.5" dy="3">printers</tspan></text></g>
<g id="b32"><rect class="n ov" x="1013" y="485" width="25" height="17" rx=".8"/><rect class="fo" x="1013" y="499" width="25" height="3"/><text class="nt" x="1025.5" y="492.9">Receive designs</text><text class="ft" x="1025.5" y="501.2">Print vendor</text></g>
<g id="b33"><rect class="n ov" x="1057" y="485" width="25" height="17" rx=".8"/><rect class="fo" x="1057" y="499" width="25" height="3"/><text class="nt" x="1069.5" y="492.9">Proofs designs</text><text class="ft" x="1069.5" y="501.2">Print vendor</text></g>
<g id="b34"><rect class="n co" x="1057" y="455" width="25" height="14" rx=".8"/><text class="nt" x="1069.5" y="462.9">Receive proofs</text></g>
<g id="b35"><rect class="n co" x="1101" y="455" width="25" height="14" rx=".8"/><text class="nt" x="1113.5" y="461.4">Send inserts for<tspan x="1113.5" dy="3">overseas voters</tspan></text></g>
<g id="b36"><rect class="n ov" x="1101" y="485" width="25" height="17" rx=".8"/><rect class="fo" x="1101" y="499" width="25" height="3"/><text class="nt" x="1113.5" y="491.4">Receive approval<tspan x="1113.5" dy="3">and inserts</tspan></text><text class="ft" x="1113.5" y="501.2">Print vendor</text></g>
<g id="b37"><rect class="n co" x="1144" y="455" width="26" height="14" rx=".8"/><text class="nt" x="1157" y="461.4">Mail to address<tspan x="1157" dy="3">change voters</tspan></text></g>
<g id="b38"><rect class="n ov" x="1144" y="485" width="26" height="17" rx=".8"/><rect class="fo" x="1144" y="499" width="26" height="3"/><text class="nt" x="1157" y="492.9">Printing starts</text><text class="ft" x="1157" y="501.2">Print vendor</text></g>
<g id="b39"><rect class="n co" x="1188" y="455" width="25" height="14" rx=".8"/><text class="nt" x="1200.5" y="461.4">Deliver pamphlets<tspan x="1200.5" dy="3">to USPS</tspan></text></g>

<!-- bottom milestones -->
<g id="bm1"><polygon class="ms" points="425,528 429,535 421,535"/><rect class="ms" x="417" y="535" width="31" height="8.5" rx=".8"/><text class="mt" x="419" y="538.2">MILESTONE</text><text class="md" x="419" y="541.2">Candidate filing deadline</text></g>
<g id="bm2"><polygon class="ms" points="512,528 516,535 508,535"/><rect class="ms" x="505" y="535" width="40" height="8.5" rx=".8"/><text class="mt" x="507" y="538.2">MILESTONE</text><text class="md" x="507" y="541.2">Candidate submission deadline</text></g>
<g id="bm3"><polygon class="ms" points="801,528 805,534 797,534"/><rect class="ms" x="793" y="534" width="56" height="15" rx=".8"/><text class="mt" x="795" y="537.3">MILESTONE - DOWNLOAD DAY</text><text class="md" x="795" y="540.3">All statements and photos in VoteWA are in<tspan x="795" dy="2.8">compliance, and counties can download the</tspan><tspan x="795" dy="2.8">information to use in their pamphlets</tspan></text></g>

<!-- bottom painpoints -->
<g id="bot-painpoints">
<path class="pb" d="M175,568.7 H337"/><circle class="dot" cx="175.5" cy="568.7" r=".9"/><circle class="dot" cx="337" cy="568.7" r=".9"/>
<path class="pb" d="M425,584.3 H1000"/><circle class="dot" cx="425" cy="584.3" r=".9"/><circle class="dot" cx="513" cy="584.3" r="1.1"/><circle class="dot" cx="800" cy="584.3" r="1.1"/><circle class="dot" cx="1000" cy="584.3" r=".9"/>
<path class="pb" d="M425,600.3 H1000"/><circle class="dot" cx="425" cy="600.3" r=".9"/><circle class="dot" cx="513" cy="600.3" r="1.1"/><circle class="dot" cx="1000" cy="600.3" r=".9"/>
<path class="pb" d="M1001,565 H1225"/><circle class="dot" cx="1001" cy="565" r=".9"/><circle class="dot" cx="1224.5" cy="565" r=".9"/>
<text class="pt" x="178" y="572.6">Annual conference held at the same time that counties start turning to primary, creating<tspan x="178" dy="2.8">stress and time crunches</tspan></text>
<text class="pt" x="427" y="588.2">Some counties have the same deadline for filing and submitting<tspan x="427" dy="2.8">candidate materials leading to confusion and frustration</tspan></text>
<text class="pt" x="515" y="588.2">Counties confront huge file because of VoteWA file handling issues,<tspan x="515" dy="2.8">review by refreshing “that does their chart”</tspan></text>
<text class="pt" x="802" y="588.2">County officials often experience scheduling conflicts with<tspan x="802" dy="2.8">conferences and events during critical points in workstream</tspan></text>
<text class="pt" x="427" y="604.2">Many candidates file on the last day creating a workload bottleneck</text>
<text class="pt" x="515" y="604.2">Counties have time consuming, manual processes for compiling<tspan x="515" dy="2.8">and organizing materials</tspan></text>
<text class="pt" x="1003" y="569">County offices field calls from voters statewide wanting information<tspan x="1003" dy="2.8">on state candidates</tspan></text>
<text class="pt" x="385.5" y="554.7">Multiple submission methods for candidate<tspan x="385.5" dy="2.8">statements/confirming messages is a strain</tspan><tspan x="385.5" dy="2.8">to smaller counties, leading to more</tspan><tspan x="385.5" dy="2.8">counties to streamline</tspan></text>
<text class="pt" x="456.5" y="554.7">Counties can't finalize designs until state sends<tspan x="456.5" dy="2.8">finalized profile content, creating workflow</tspan><tspan x="456.5" dy="2.8">bottleneck</tspan></text>
<text class="pt" x="456.5" y="566.7">For some counties, state candidates are the last<tspan x="456.5" dy="2.8">to be finalized so checking and putting them</tspan><tspan x="456.5" dy="2.8">in models is an added burden for challenging</tspan></text>
<text class="pt" x="523.5" y="556.7">Candidates don't follow “no-line” guidelines for submitting in<tspan x="523.5" dy="2.8">compliance with rules do small leading to errors</tspan></text>
<text class="pt" x="607.5" y="567.7">Candidates don't follow statement guidelines<tspan x="607.5" dy="2.8">resulting those issues take up counties' time</tspan></text>
<text class="pt" x="656.5" y="555.7">Translation work is manual and time consuming<tspan x="656.5" dy="2.8">for counties</tspan></text>
<text class="pt" x="781.5" y="555.7">Long questions and some candidates don't work in<tspan x="781.5" dy="2.8">reading/categories</tspan></text>
<text class="pt" x="870.5" y="556.7">Timeline and deadlines for state candidates are fast for counties</text>
<text class="pt" x="870.5" y="564.7">Counties frustrated with inability to streamline editing and<tspan x="870.5" dy="2.8">formatting process</tspan></text>
<text class="pt" x="870.5" y="574.7">Lack of trained staff, lack of processed knowledge, limited<tspan x="870.5" dy="2.8">resources and time</tspan></text>
</g>

<!-- bottom key -->
<g id="bot-key">
<rect class="key" x="1097" y="578" width="121" height="49" rx="1"/>
<text class="kt" x="1157.5" y="585.5">Key</text>
<rect class="n co" x="1105" y="589" width="26" height="15" rx=".8"/><text class="kl" x="1118" y="596">County<tspan x="1118" dy="2.6">responsibility</tspan></text>
<rect class="n st" x="1132" y="589" width="25" height="15" rx=".8"/><text class="kl" x="1144.5" y="596">State responsibility<tspan x="1144.5" dy="2.6">(OSOS, VIS)</tspan></text>
<rect class="n ca" x="1158" y="589" width="25" height="15" rx=".8"/><text class="kl" x="1170.5" y="596">Candidate<tspan x="1170.5" dy="2.6">responsibility</tspan></text>
<rect class="n ov" x="1184" y="589" width="25" height="15" rx=".8"/><text class="kl" x="1196.5" y="596">Other partner<tspan x="1196.5" dy="2.6">responsibility</tspan></text>
<path class="g" d="M1104,611.7 H1130" stroke-width="1.4"/>
<path class="r" d="M1139,611.7 H1165" stroke-width="1.4"/>
<text class="kl" x="1116" y="618">Normal process</text>
<text class="kl" x="1151" y="618">Some friction or<tspan x="1151" dy="2.6">painpoints</tspan></text>
</g>
</svg>
